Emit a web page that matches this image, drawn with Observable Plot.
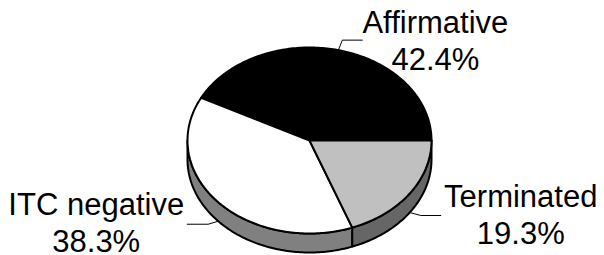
<!DOCTYPE html>
<html><head><meta charset="utf-8">
<script src="https://cdn.jsdelivr.net/npm/d3@7"></script>
<script src="https://cdn.jsdelivr.net/npm/@observablehq/plot@0.6"></script>
<style>html,body{margin:0;padding:0;background:#fff;overflow:hidden}</style>
</head><body><div id="chart"></div>
<script>
// ---- data ----
const categories = ["Affirmative", "ITC negative", "Terminated"];
const shares = [42.4, 38.3, 19.3];
const pctLabels = ["42.4%", "38.3%", "19.3%"];
const topColors = ["#000000", "#ffffff", "#c0c0c0"];
const sideColors = ["#404040", "#808080", "#666666"];

// ---- layout (pixel space) ----
const W = 604, H = 255;
const cx = 309, cy = 140, rx = 122, ry = 93, depth = 19;
// leader elbow offset, arm length (signed), label offset from arm end
const leaderLayout = {
  "Affirmative": {ex: 4, ey: -10, arm: 20, lx: 73, ly: -7},
  "ITC negative": {ex: -10, ey: 3, arm: -21, lx: -91, ly: -9},
  "Terminated": {ex: 11, ey: 3, arm: 20, lx: 80, ly: -8}
};
const lineGap = 37;

function pt(deg, dz = 0) {
  const r = deg * Math.PI / 180;
  return {x: cx + rx * Math.cos(r), y: cy - ry * Math.sin(r) + dz};
}
function arc(a, b, dz = 0) {
  const pts = [];
  const n = Math.max(2, Math.ceil(Math.abs(b - a) / 1));
  for (let i = 0; i <= n; i++) pts.push(pt(a + (b - a) * i / n, dz));
  return pts;
}

const total = d3.sum(shares);
let acc = 0;
const slices = categories.map((c, i) => {
  const a0 = acc / total * 360;
  acc += shares[i];
  const a1 = acc / total * 360;
  return {name: c, pct: pctLabels[i], a0, a1, top: topColors[i], side: sideColors[i]};
});

const marks = [];
// side walls (front half: 180..360 deg)
for (const s of slices) {
  const a = Math.max(s.a0, 180), b = Math.min(s.a1, 360);
  if (a >= b) continue;
  const poly = [...arc(a, b, 0), ...arc(b, a, depth)];
  poly.push(poly[0]);
  marks.push(Plot.line(poly, {x: "x", y: "y", fill: s.side, stroke: "black", strokeWidth: 2, strokeLinejoin: "round"}));
}
// top faces
for (const s of slices) {
  const c = {x: cx, y: cy};
  const poly = [c, ...arc(s.a0, s.a1, 0), c];
  marks.push(Plot.line(poly, {x: "x", y: "y", fill: s.top, stroke: "black", strokeWidth: 2, strokeLinejoin: "round"}));
}
// leaders and labels
const nameRows = [], pctRows = [];
for (const s of slices) {
  const m = (s.a0 + s.a1) / 2;
  const lower = Math.sin(m * Math.PI / 180) < 0;
  const p0 = pt(m, lower ? depth : 0);
  const L = leaderLayout[s.name];
  const p1 = {x: p0.x + L.ex, y: p0.y + L.ey};
  const p2 = {x: p1.x + L.arm, y: p1.y};
  marks.push(Plot.line([p0, p1, p2], {x: "x", y: "y", stroke: "black", strokeWidth: 1}));
  nameRows.push({x: p2.x + L.lx, y: p2.y + L.ly, t: s.name});
  pctRows.push({x: p2.x + L.lx, y: p2.y + L.ly + lineGap, t: s.pct});
}
const textOpts = {x: "x", y: "y", text: "t", fontSize: 31, textAnchor: "middle", lineAnchor: "bottom", fill: "black"};
marks.push(Plot.text(nameRows, textOpts));
marks.push(Plot.text(pctRows, textOpts));

const chart = Plot.plot({
  width: W, height: H, margin: 0,
  x: {domain: [0, W], range: [0, W], axis: null},
  y: {domain: [0, H], range: [0, H], axis: null},
  style: {background: "white", fontFamily: "'Liberation Sans', Arial, sans-serif", overflow: "visible"},
  marks
});
document.getElementById("chart").appendChild(chart);
</script>
</body></html>
